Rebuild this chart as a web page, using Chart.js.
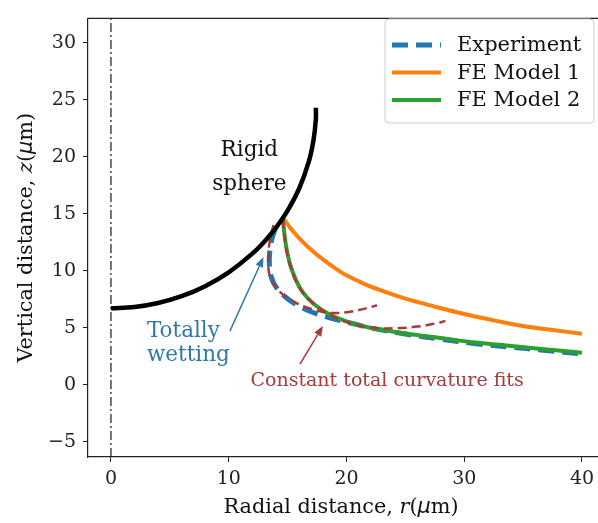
<!DOCTYPE html>
<html><head><meta charset="utf-8">
<script src="https://cdn.jsdelivr.net/npm/chart.js@4/dist/chart.umd.min.js"></script>
<style>html,body{margin:0;padding:0;background:#fff;overflow:hidden;width:598px;height:523px}</style>
</head><body>
<canvas id="c" width="616" height="523"></canvas>
<script>
// ---- tick labels / axis limits ----
const xTicks = [0, 10, 20, 30, 40];
const yTicks = [-5, 0, 5, 10, 15, 20, 25, 30];
const xLimits = [-1.95, 42.89];
const yLimits = [-6.34, 32.14];

// ---- series (r, z) ----
const sphereR = [0, 2, 4, 6, 8, 10, 12, 13, 14, 15, 16, 16.8, 17.2, 17.4, 17.4];
const sphereZ = [6.7, 6.82, 7.17, 7.77, 8.65, 9.86, 11.5, 12.53, 13.77, 15.28, 17.26, 19.57, 21.47, 23.3, 24.3];

const expR = [14.0, 13.7, 13.5, 13.45, 13.6, 14.0, 14.7, 15.7, 17.0, 18.5, 20.0, 22.0, 25.0, 28.0, 31.0, 34.0, 37.0, 40.0];
const expZ = [13.8, 12.9, 11.8, 10.6, 9.5, 8.6, 7.8, 7.05, 6.4, 5.9, 5.5, 5.0, 4.45, 4.0, 3.6, 3.3, 3.0, 2.7];

const fe1R = [14.6, 15.2, 16.0, 17.0, 18.0, 19.0, 20.0, 21.5, 23.0, 25.0, 27.5, 30.0, 32.5, 35.0, 37.5, 40.0];
const fe1Z = [14.7, 13.8, 12.85, 11.85, 11.0, 10.25, 9.6, 8.85, 8.25, 7.55, 6.85, 6.2, 5.65, 5.15, 4.8, 4.48];

const fe2R = [14.6, 14.7, 14.9, 15.2, 15.7, 16.3, 17.2, 18.5, 20.0, 22.0, 25.0, 28.0, 31.0, 34.0, 37.0, 40.0];
const fe2Z = [14.7, 13.5, 12.0, 10.6, 9.2, 8.1, 7.1, 6.2, 5.55, 5.0, 4.5, 4.1, 3.7, 3.4, 3.1, 2.8];

const fit1R = [13.8, 13.5, 13.35, 13.5, 14.2, 15.4, 17.0, 18.6, 20.3, 22.6];
const fit1Z = [14.0, 12.7, 11.0, 9.5, 8.3, 7.35, 6.65, 6.3, 6.4, 6.95];

const fit2R = [14.6, 14.8, 15.2, 15.9, 17.0, 18.5, 20.0, 21.5, 23.0, 24.5, 26.0, 27.5, 28.4];
const fit2Z = [14.5, 12.5, 10.5, 8.7, 7.3, 6.2, 5.5, 5.1, 4.95, 4.97, 5.1, 5.35, 5.6];

const axisLineR = [0, 0];
const axisLineZ = [yLimits[0], yLimits[1]];

const labels = ['Experiment', 'FE Model 1', 'FE Model 2'];

const pts = (rs, zs) => rs.map((r, i) => ({x: r, y: zs[i]}));
const SERIF = '"DejaVu Serif", serif';
const C = {blue: '#1f77b4', orange: '#ff7f0e', green: '#2ca02c', red: '#a8393a'};

const common = {pointRadius: 0, pointHoverRadius: 0, fill: false, tension: 0.35};

const data = {datasets: [
  {...common, label: labels[0], data: pts(expR, expZ), borderColor: C.blue, borderWidth: 5, borderDash: [16, 8], order: 4, inLegend: true},
  {...common, label: labels[1], data: pts(fe1R, fe1Z), borderColor: C.orange, borderWidth: 4, order: 3, inLegend: true},
  {...common, label: labels[2], data: pts(fe2R, fe2Z), borderColor: C.green, borderWidth: 4, order: 2, inLegend: true},
  {...common, label: 'fit1', data: pts(fit1R, fit1Z), borderColor: C.red, borderWidth: 2.5, borderDash: [9, 5], order: 1},
  {...common, label: 'fit2', data: pts(fit2R, fit2Z), borderColor: C.red, borderWidth: 2.5, borderDash: [9, 5], order: 1},
  {...common, label: 'sphere', data: pts(sphereR, sphereZ), borderColor: '#000', borderWidth: 4.5, order: 0},
  {...common, tension: 0, label: 'axis', data: pts(axisLineR, axisLineZ), borderColor: '#000', borderWidth: 1.1, borderDash: [9, 3, 2, 3], order: 5}
]};

function drawArrow(ctx, x0, y0, x1, y1, color) {
  const ang = Math.atan2(y1 - y0, x1 - x0);
  const hl = 10, hw = 4;
  ctx.save();
  ctx.strokeStyle = color; ctx.fillStyle = color; ctx.lineWidth = 1.5;
  ctx.beginPath(); ctx.moveTo(x0, y0);
  ctx.lineTo(x1 - hl * Math.cos(ang), y1 - hl * Math.sin(ang)); ctx.stroke();
  ctx.beginPath(); ctx.moveTo(x1, y1);
  ctx.lineTo(x1 - hl * Math.cos(ang) + hw * Math.sin(ang), y1 - hl * Math.sin(ang) - hw * Math.cos(ang));
  ctx.lineTo(x1 - hl * Math.cos(ang) - hw * Math.sin(ang), y1 - hl * Math.sin(ang) + hw * Math.cos(ang));
  ctx.closePath(); ctx.fill();
  ctx.restore();
}

function drawPieces(ctx, pieces, x, y, align) {
  let total = 0;
  pieces.forEach(p => { ctx.font = p.f; total += ctx.measureText(p.t).width; });
  let cx = align === 'center' ? x - total / 2 : x;
  ctx.textAlign = 'left';
  pieces.forEach(p => { ctx.font = p.f; ctx.fillText(p.t, cx, y); cx += ctx.measureText(p.t).width; });
}

const extras = {
  id: 'extras',
  afterDraw(chart) {
    const {ctx, chartArea: a, scales: {x, y}} = chart;
    const px = v => x.getPixelForValue(v), py = v => y.getPixelForValue(v);
    ctx.save();
    ctx.strokeStyle = '#222'; ctx.lineWidth = 1.2;
    ctx.beginPath(); ctx.moveTo(a.left, a.top); ctx.lineTo(a.right, a.top); ctx.stroke();

    ctx.fillStyle = '#111'; ctx.font = '21.5px ' + SERIF; ctx.textAlign = 'center'; ctx.textBaseline = 'middle';
    ctx.fillText('Rigid', px(11.75), py(20.55));
    ctx.fillText('sphere', px(11.75), py(17.6));
    ctx.fillStyle = '#2f78a8'; ctx.textAlign = 'left';
    ctx.fillText('Totally', px(3.05), py(4.65));
    ctx.fillText('wetting', px(3.05), py(2.55));
    ctx.fillStyle = '#a83a3a'; ctx.textAlign = 'center'; ctx.font = '19px ' + SERIF;
    ctx.fillText('Constant total curvature fits', px(23.45), py(0.3));
    drawArrow(ctx, px(10.1), py(4.7), px(12.95), py(11.2), '#2f78a8');
    drawArrow(ctx, px(16.05), py(1.8), px(18.0), py(5.15), '#a83a3a');

    ctx.fillStyle = '#111'; ctx.textBaseline = 'middle';
    const nf = '20.8px ' + SERIF, itf = 'italic 20.8px ' + SERIF, mf = 'italic 20.8px "DejaVu Sans", sans-serif';
    drawPieces(ctx, [{t: 'Radial distance, ', f: nf}, {t: 'r', f: itf}, {t: '(', f: nf}, {t: 'μ', f: mf}, {t: 'm)', f: nf}], 341, 508, 'center');
    ctx.save(); ctx.translate(27, (a.top + a.bottom) / 2); ctx.rotate(-Math.PI / 2);
    drawPieces(ctx, [{t: 'Vertical distance, ', f: nf}, {t: 'z', f: itf}, {t: '(', f: nf}, {t: 'μ', f: mf}, {t: 'm)', f: nf}], 0, 0, 'center');
    ctx.restore();

    const lx = 385, ly = 19, lw = 209, lh = 104, r = 4;
    ctx.fillStyle = 'rgba(255,255,255,0.85)'; ctx.strokeStyle = '#cccccc'; ctx.lineWidth = 1;
    ctx.beginPath(); ctx.roundRect(lx, ly, lw, lh, r); ctx.fill(); ctx.stroke();
    const items = chart.data.datasets.filter(d => d.inLegend);
    items.forEach((d, i) => {
      const yy = 45 + i * 27.5;
      ctx.strokeStyle = d.borderColor; ctx.lineWidth = d.borderWidth;
      ctx.setLineDash(d.borderDash || []);
      ctx.beginPath(); ctx.moveTo(392, yy); ctx.lineTo(441, yy); ctx.stroke();
      ctx.setLineDash([]);
      ctx.fillStyle = '#111'; ctx.font = '21px ' + SERIF; ctx.textAlign = 'left'; ctx.textBaseline = 'middle';
      ctx.fillText(d.label, 457, yy + 1);
    });
    ctx.restore();
  }
};

new Chart(document.getElementById('c'), {
  type: 'line',
  data,
  options: {
    responsive: false, animation: false,
    layout: {padding: {left: 0, right: 0, top: 8, bottom: 0}, autoPadding: false},
    plugins: {legend: {display: false}, tooltip: {enabled: false}},
    scales: {
      x: {
        type: 'linear', min: xLimits[0], max: xLimits[1],
        afterBuildTicks: s => { s.ticks = xTicks.map(v => ({value: v})); },
        afterFit: s => { s.height = 66; },
        grid: {display: true, drawOnChartArea: false, drawTicks: true, tickLength: 5, tickColor: '#222'},
        border: {display: true, color: '#222', width: 1.2},
        ticks: {font: {family: SERIF, size: 19}, color: '#222', padding: 6, maxRotation: 0}
      },
      y: {
        type: 'linear', min: yLimits[0], max: yLimits[1],
        afterBuildTicks: s => { s.ticks = yTicks.map(v => ({value: v})); },
        afterFit: s => { s.width = 88; },
        grid: {display: true, drawOnChartArea: false, drawTicks: true, tickLength: 5, tickColor: '#222'},
        border: {display: true, color: '#222', width: 1.2},
        ticks: {font: {family: SERIF, size: 19}, color: '#222', padding: 7,
          callback: v => (v < 0 ? '\u2212' + Math.abs(v) : String(v))}
      }
    }
  },
  plugins: [extras]
});
</script>
</body></html>
